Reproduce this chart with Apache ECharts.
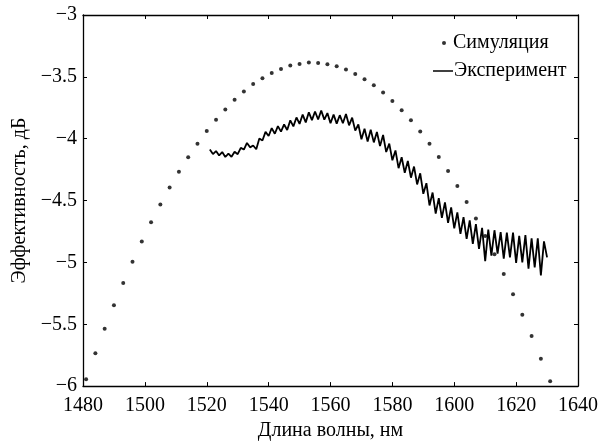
<!DOCTYPE html>
<html>
<head>
<meta charset="utf-8">
<script src="https://cdn.jsdelivr.net/npm/echarts@6/dist/echarts.min.js"></script>
<style>html,body{margin:0;padding:0;background:#fff}#c{width:601px;height:446px}</style>
</head>
<body>
<div id="c"></div>
<script>
// Simulation (dots)
const simWavelength = [1481,1484,1487,1490,1493,1496,1499,1502,1505,1508,1511,1514,1517,1520,1523,1526,1529,1532,1535,1538,1541,1544,1547,1550,1553,1556,1559,1562,1565,1568,1571,1574,1577,1580,1583,1586,1589,1592,1595,1598,1601,1604,1607,1610,1613,1616,1619,1622,1625,1628,1631];
const simEfficiency = [-5.944,-5.734,-5.536,-5.346,-5.166,-4.994,-4.831,-4.675,-4.531,-4.394,-4.267,-4.149,-4.040,-3.937,-3.847,-3.763,-3.686,-3.618,-3.558,-3.511,-3.468,-3.436,-3.409,-3.396,-3.385,-3.388,-3.398,-3.414,-3.441,-3.476,-3.519,-3.567,-3.626,-3.696,-3.771,-3.851,-3.941,-4.040,-4.147,-4.262,-4.382,-4.511,-4.646,-4.786,-4.935,-5.094,-5.257,-5.424,-5.595,-5.778,-5.960];

// Experiment (line)
const expWavelength = [1521,1522,1523,1524,1525,1526,1527,1528,1529,1530,1531,1532,1533,1534,1535,1536,1537,1538,1539,1540,1541,1542,1543,1544,1545,1546,1547,1548,1549,1550,1551,1552,1553,1554,1555,1556,1557,1558,1559,1560,1561,1562,1563,1564,1565,1566,1567,1568,1569,1570,1571,1572,1573,1574,1575,1576,1577,1578,1579,1580,1581,1582,1583,1584,1585,1586,1587,1588,1589,1590,1591,1592,1593,1594,1595,1596,1597,1598,1599,1600,1601,1602,1603,1604,1605,1606,1607,1608,1609,1610,1611,1612,1613,1614,1615,1616,1617,1618,1619,1620,1621,1622,1623,1624,1625,1626,1627,1628,1629,1630];
const expEfficiency = [-4.088,-4.124,-4.100,-4.135,-4.108,-4.148,-4.120,-4.146,-4.106,-4.125,-4.074,-4.088,-4.034,-4.070,-4.055,-4.085,-3.998,-4.015,-3.945,-3.978,-3.915,-3.960,-3.898,-3.943,-3.885,-3.930,-3.852,-3.900,-3.828,-3.880,-3.805,-3.868,-3.787,-3.850,-3.780,-3.845,-3.772,-3.846,-3.793,-3.875,-3.805,-3.878,-3.810,-3.875,-3.800,-3.892,-3.830,-3.935,-3.885,-4.005,-3.920,-4.022,-3.927,-4.030,-3.945,-4.060,-3.970,-4.108,-4.040,-4.175,-4.095,-4.238,-4.150,-4.275,-4.180,-4.315,-4.225,-4.370,-4.280,-4.445,-4.360,-4.540,-4.435,-4.605,-4.480,-4.640,-4.515,-4.680,-4.555,-4.725,-4.595,-4.770,-4.635,-4.810,-4.660,-4.850,-4.690,-4.890,-4.720,-4.990,-4.735,-4.945,-4.740,-4.930,-4.755,-4.970,-4.760,-4.960,-4.760,-5.005,-4.785,-5.000,-4.780,-5.050,-4.805,-5.040,-4.805,-5.105,-4.830,-4.960];

const xTicks = {min: 1480, max: 1640, step: 20};
const yTicks = {min: -6, max: -3, step: 0.5};

const simName = 'Симуляция';
const expName = 'Эксперимент';
const xTitle = 'Длина волны, нм';
const yTitle = 'Эффективность, дБ';

const FONT = '"Liberation Serif", "DejaVu Serif", serif';
const black = '#000';
const minus = v => String(v).replace('-', '\u2212');
const plain = v => String(v);

const axisCommon = {
  axisLine: {show: true, onZero: false, lineStyle: {color: black, width: 1.3}},
  axisTick: {show: true, inside: true, length: 4, lineStyle: {color: black}},
  splitLine: {show: false}
};

const chart = echarts.init(document.getElementById('c'), null, {renderer: 'canvas'});
chart.setOption({
  animation: false,
  backgroundColor: '#fff',
  grid: {left: 83, right: 22, top: 15, bottom: 58},
  legend: [
    {
      data: [{name: simName, icon: 'circle'}],
      left: 437, top: 28, itemWidth: 4, itemHeight: 4,
      textStyle: {fontFamily: FONT, fontSize: 20, color: black, padding: [0, 0, 0, 2]},
      selectedMode: false
    },
    {
      data: [{name: expName, icon: 'rect'}],
      left: 428, top: 56, itemWidth: 20, itemHeight: 1.5,
      textStyle: {fontFamily: FONT, fontSize: 20, color: black, padding: [0, 0, 0, -4]},
      selectedMode: false
    }
  ],
  xAxis: [
    Object.assign({
      type: 'value', position: 'bottom', min: xTicks.min, max: xTicks.max, interval: xTicks.step,
      name: xTitle, nameLocation: 'middle', nameGap: 30,
      nameTextStyle: {fontFamily: FONT, fontSize: 20, color: black},
      axisLabel: {fontFamily: FONT, fontSize: 20, color: black, margin: 10, formatter: plain}
    }, axisCommon),
    Object.assign({
      type: 'value', position: 'top', min: xTicks.min, max: xTicks.max, interval: xTicks.step,
      axisLabel: {show: false}
    }, axisCommon)
  ],
  yAxis: [
    Object.assign({
      type: 'value', position: 'left', min: yTicks.min, max: yTicks.max, interval: yTicks.step,
      name: yTitle, nameLocation: 'middle', nameGap: 51,
      nameTextStyle: {fontFamily: FONT, fontSize: 20, color: black},
      axisLabel: {fontFamily: FONT, fontSize: 20, color: black, margin: 6, formatter: minus}
    }, axisCommon),
    Object.assign({
      type: 'value', position: 'right', min: yTicks.min, max: yTicks.max, interval: yTicks.step,
      axisLabel: {show: false}
    }, axisCommon)
  ],
  series: [
    {
      name: simName, type: 'scatter', xAxisIndex: 0, yAxisIndex: 0,
      data: simWavelength.map((x, i) => [x, simEfficiency[i]]),
      symbol: 'circle', symbolSize: 4,
      itemStyle: {color: black}, z: 2
    },
    {
      name: expName, type: 'line', xAxisIndex: 0, yAxisIndex: 0,
      data: expWavelength.map((x, i) => [x, expEfficiency[i]]),
      showSymbol: false, symbol: 'none',
      lineStyle: {color: black, width: 1.8},
      itemStyle: {color: black}, z: 3
    }
  ]
});
</script>
</body>
</html>
